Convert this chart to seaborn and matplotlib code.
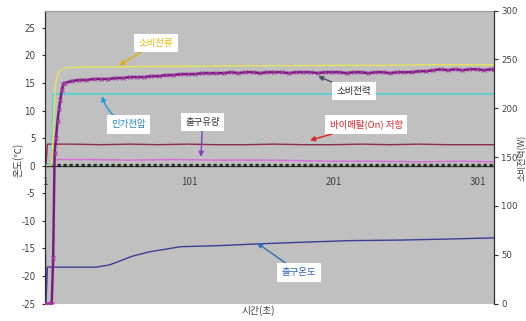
import matplotlib
matplotlib.use("Agg")
import matplotlib.pyplot as plt
from matplotlib import font_manager
import seaborn as sns

# ---- measured series -------------------------------------------------------
# 소비전력 (W, right axis)
power_t = list(range(1, 15)) + list(range(15, 311, 5)) + [312]
power_w = [0, 0, 0, 0, 0, 0, 47, 154, 170, 187, 199, 209, 219, 225,
           226, 228, 229, 229, 230, 230, 230, 231, 231, 232,
           232, 232, 233, 233, 234, 234, 235, 235, 235, 236,
           236, 236, 236, 237, 236, 237, 237, 236, 237, 237,
           237, 236, 237, 237, 237, 236, 237, 237, 237, 236,
           237, 237, 236, 237, 237, 236, 237, 237, 237, 238,
           238, 239, 240, 239, 240, 239, 240, 240, 239, 240,
           240]

# 소비전류 (A, left axis)
current_t = [1, 6, 7, 8, 9, 10, 11, 12, 14, 17, 20, 30, 50, 80, 100, 130,
             160, 200, 240, 270, 300, 312]
current_a = [0, 0, 6.0, 13.0, 15.3, 16.4, 17.0, 17.3, 17.6, 17.8, 17.8, 17.9,
             17.9, 18.0, 18.0, 18.1, 18.1, 18.2, 18.2, 18.3, 18.3, 18.3]

# 인가전압 (V, left axis)
voltage_t = [1, 6, 7, 312]
voltage_v = [0.2, 0.2, 13.0, 13.0]

# 바이메탈(On) 저항
bimetal_t = [1, 2, 3, 20, 40, 60, 80, 100, 120, 140, 160, 180, 200, 220,
             240, 260, 280, 300, 312]
bimetal_r = [0, 0, 3.9, 3.9, 3.8, 3.9, 3.8, 3.9, 3.8, 3.8, 3.9, 3.8, 3.8,
             3.9, 3.8, 3.9, 3.8, 3.8, 3.8]

# 출구유량
flow_t = [8, 30, 60, 90, 120, 150, 180, 200, 230, 260, 290, 312]
flow_v = [1.1, 1.1, 1.0, 1.1, 1.0, 1.0, 0.9, 0.8, 0.8, 0.7, 0.8, 0.7]

# baseline channel sitting at zero
base_t = [1, 312]
base_v = [0.15, 0.15]

# 출구온도 (℃)
temp_t = [1, 2, 3, 37, 46, 53, 62, 74, 86, 95, 122, 148, 178, 212, 247,
          282, 312]
temp_c = [0, -25, -18.4, -18.4, -18.0, -17.3, -16.4, -15.6, -15.1, -14.7,
          -14.5, -14.2, -13.9, -13.6, -13.5, -13.3, -13.1]

x_ticks = [1, 101, 201, 301]
left_ticks = list(range(-25, 26, 5))
right_ticks = list(range(0, 301, 50))

# ---- figure ---------------------------------------------------------------
sns.set_style("white")
KR = ["Noto Sans CJK KR", "DejaVu Sans"]
plt.rcParams["font.family"] = KR

# narrow face for the numeric tick labels
installed = {f.name for f in font_manager.fontManager.ttflist}
if "Liberation Sans Narrow" in installed:
    tick_font = dict(family="Liberation Sans Narrow")
else:
    tick_font = dict(family="DejaVu Sans", stretch="condensed")

W, H = 526, 321
fig = plt.figure(figsize=(W / 100, H / 100), dpi=100)
left_px, right_px, top_px, bot_px = 44.5, 494, 10.7, 303.5
ax = fig.add_axes([left_px / W, 1 - bot_px / H,
                   (right_px - left_px) / W, (bot_px - top_px) / H])
ax.set_facecolor("#C0C0C0")
ax2 = ax.twinx()
ax2.patch.set_visible(False)

sns.lineplot(x=temp_t, y=temp_c, ax=ax, color="#3C3C98", linewidth=1.0)
sns.lineplot(x=bimetal_t, y=bimetal_r, ax=ax, color="#8E2A4C", linewidth=1.0)
sns.lineplot(x=base_t, y=base_v, ax=ax, color="#223022", linewidth=2.4,
             linestyle=(0, (1.0, 0.8)))
sns.lineplot(x=flow_t, y=flow_v, ax=ax, color="#DA6EDA", linewidth=1.1)
sns.lineplot(x=voltage_t, y=voltage_v, ax=ax, color="#36D8D8", linewidth=1.0)
sns.lineplot(x=current_t, y=current_a, ax=ax, color="#E4E45A", linewidth=1.0)

sns.lineplot(x=power_t, y=power_w, ax=ax2, color="#7A1C7E", linewidth=1.8,
             marker="x", markersize=3.0, markeredgecolor="#A638A8",
             markeredgewidth=0.8)

ax.set_xlim(1, 312)
ax.set_ylim(-25, 28.1)
ax2.set_ylim(0, 300)
ax.set_xticks(x_ticks)
ax.set_xticklabels([str(v) for v in x_ticks], **tick_font)
ax.set_yticks(left_ticks)
ax.set_yticklabels([str(v) for v in left_ticks], **tick_font)
ax2.set_yticks(right_ticks)
ax2.set_yticklabels([str(v) for v in right_ticks], **tick_font)
ax.set_xlabel("")
ax.set_ylabel("")
ax2.set_ylabel("")

# category axis crosses the value axis at zero
ax.spines["bottom"].set_position(("data", 0))
ax.spines["bottom"].set_color("#2a2a2a")
ax.spines["bottom"].set_linewidth(0.8)
ax.spines["left"].set_color("#303030")
ax.spines["left"].set_linewidth(0.9)
ax.spines["top"].set_color("#9a9a9a")
ax.spines["top"].set_linewidth(0.8)
ax.spines["right"].set_visible(False)
for s in ("left", "top", "bottom"):
    ax2.spines[s].set_visible(False)
ax2.spines["right"].set_color("#303030")
ax2.spines["right"].set_linewidth(0.9)

tick_col = "#404040"
ax.tick_params(axis="x", length=0, pad=8, labelsize=7, labelcolor=tick_col)
ax.tick_params(axis="y", length=2.5, width=0.8, pad=4, labelsize=7,
               labelcolor=tick_col, color="#303030", direction="out")
ax2.tick_params(axis="y", length=3, width=0.8, pad=2, labelsize=6.8,
                labelcolor=tick_col, color="#303030", direction="out")

# axis titles
fig.text(258 / W, 1 - 311 / H, "시간(초)", ha="center", va="center",
         fontsize=7, color=tick_col, family=KR)
fig.text(18 / W, 1 - 160 / H, "온도(℃)", ha="center", va="center",
         rotation=90, fontsize=7, color=tick_col, family=KR)
fig.text(522.5 / W, 1 - 158 / H, "소비전력(W)", ha="center", va="center",
         rotation=90, fontsize=6.4, color=tick_col, family=KR)

# callouts
box = dict(boxstyle="square,pad=0.5", fc="white", ec="none")


def callout(text, xy, xytext, tcolor, acolor, rad=0.0):
    ax.annotate(text, xy=xy, xytext=xytext, ha="center", va="center",
                fontsize=6.8, color=tcolor, family=KR, bbox=box,
                arrowprops=dict(arrowstyle="-|>", color=acolor, lw=1.0,
                                mutation_scale=7, shrinkA=0, shrinkB=0,
                                connectionstyle=f"arc3,rad={rad}"),
                zorder=10)


callout("소비전류", (52.6, 18.2), (78.2, 22.2), "#E8B800", "#E0B000")
callout("인가전압", (40.8, 12.6), (59.1, 7.5), "#1C88D0", "#1C9AD8", rad=-0.25)
callout("출구유량", (109.3, 1.6), (110.3, 7.9), "#333333", "#8040C0")
callout("소비전력", (190.3, 16.2), (215.2, 13.5), "#222222", "#505068")
callout("바이메탈(On) 저항", (184.7, 4.6), (223.5, 7.5), "#E02020", "#E02020")
callout("출구온도", (148.0, -14.0), (177.1, -19.4), "#2A62C0", "#2E6EB4")

fig.savefig("out.png", dpi=100)
